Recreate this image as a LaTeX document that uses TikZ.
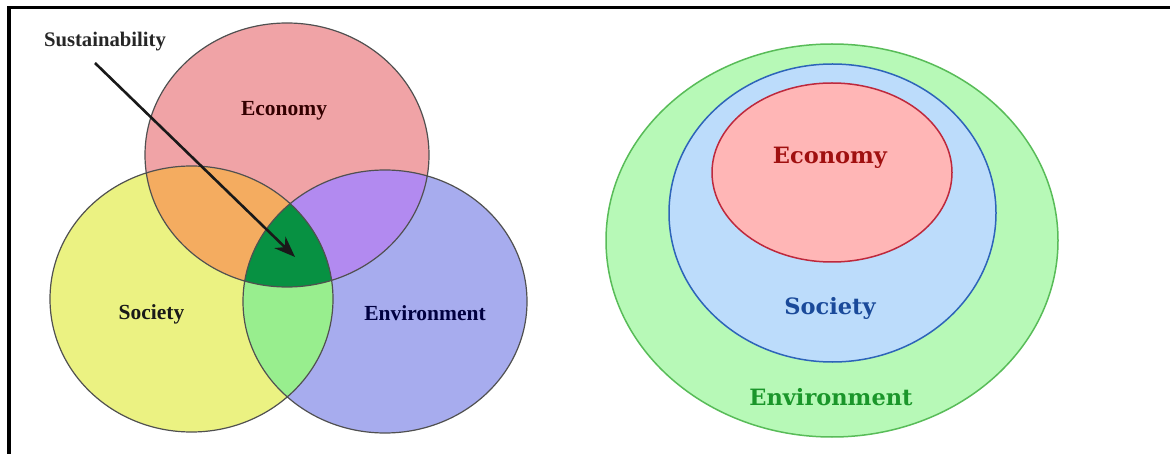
\documentclass[tikz,border=0pt]{standalone}
\usepackage{fontspec}
\usetikzlibrary{calc}
\usetikzlibrary{arrows.meta}

\newfontfamily\vennfont{Liberation Serif}
\newfontfamily\ringfont{DejaVu Serif}

% three overlapping circles
\newcommand\econpath{(287,155) ellipse [x radius=142, y radius=132]}
\newcommand\socpath{(191.5,299) ellipse [x radius=141.5, y radius=133]}
\newcommand\envpath{(385,301.5) ellipse [x radius=142, y radius=131.5]}

\definecolor{econfill}{RGB}{240,163,166}
\definecolor{socfill}{RGB}{235,242,130}
\definecolor{envfill}{RGB}{167,172,238}
\definecolor{econsoc}{RGB}{244,172,96}
\definecolor{econenv}{RGB}{178,138,240}
\definecolor{socenv}{RGB}{152,238,142}
\definecolor{allthree}{RGB}{7,145,66}
\definecolor{rim}{RGB}{80,80,80}

\definecolor{ringenv}{RGB}{183,249,183}
\definecolor{ringenvline}{RGB}{88,188,88}
\definecolor{ringsoc}{RGB}{188,220,251}
\definecolor{ringsocline}{RGB}{45,100,185}
\definecolor{ringecon}{RGB}{255,182,182}
\definecolor{ringeconline}{RGB}{190,40,60}

\tikzset{
  venntext/.style={font=\vennfont\bfseries\fontsize{21.5}{24}\selectfont},
  ringtext/.style={font=\ringfont\bfseries\fontsize{22.5}{26}\selectfont}
}

\begin{document}
\begin{tikzpicture}[x=1pt, y=-1pt]
  \useasboundingbox (0,0) rectangle (1170,454);
  \fill[white] (0,0) rectangle (1170,454);
  \draw [line width=3.5] (9,454) -- (9,7.6) -- (1170,7.6);

  % left: Venn diagram
  \fill [econfill] \econpath;
  \fill [socfill] \socpath;
  \fill [envfill] \envpath;
  \begin{scope}
    \clip \econpath;
    \fill [econsoc] \socpath;
    \fill [econenv] \envpath;
  \end{scope}
  \begin{scope}
    \clip \socpath;
    \fill [socenv] \envpath;
    \clip \econpath;
    \fill [allthree] \envpath;
  \end{scope}
  \draw [rim, line width=1.2] \econpath \socpath \envpath;

  \node [venntext, text=black!80!red] (econ) at (284,111) {Economy};
  \node [venntext, text=black!90] (soc) at (151.5,314) {Society};
  \node [venntext, text=black!75!blue] (env) at (425,313) {Environment};
  \node [venntext, text=black!85, font=\vennfont\bfseries\fontsize{20.7}{23}\selectfont] (sust) at (105,42) {Sustainability};

  \coordinate (tail) at (95,63);
  \coordinate (core) at (295,257);
  \draw [-{Stealth[length=21, width=16]}, line width=2.6, black!90] (tail) -- (core);

  % right: nested rings
  \filldraw [fill=ringenv, draw=ringenvline, line width=1.5] (832,240.5) ellipse [x radius=226, y radius=196.5];
  \filldraw [fill=ringsoc, draw=ringsocline, line width=1.5] (832.5,213) ellipse [x radius=163.5, y radius=149];
  \filldraw [fill=ringecon, draw=ringeconline, line width=1.5] (832,172.5) ellipse [x radius=120, y radius=89.5];

  \node [ringtext, text={rgb,255:red,160;green,16;blue,16}] (recon) at (830,158) {Economy};
  \node [ringtext, text={rgb,255:red,26;green,74;blue,154}] (rsoc) at (830,308) {Society};
  \node [ringtext, text={rgb,255:red,26;green,150;blue,42}] (renv) at (831,397) {Environment};
\end{tikzpicture}
\end{document}
